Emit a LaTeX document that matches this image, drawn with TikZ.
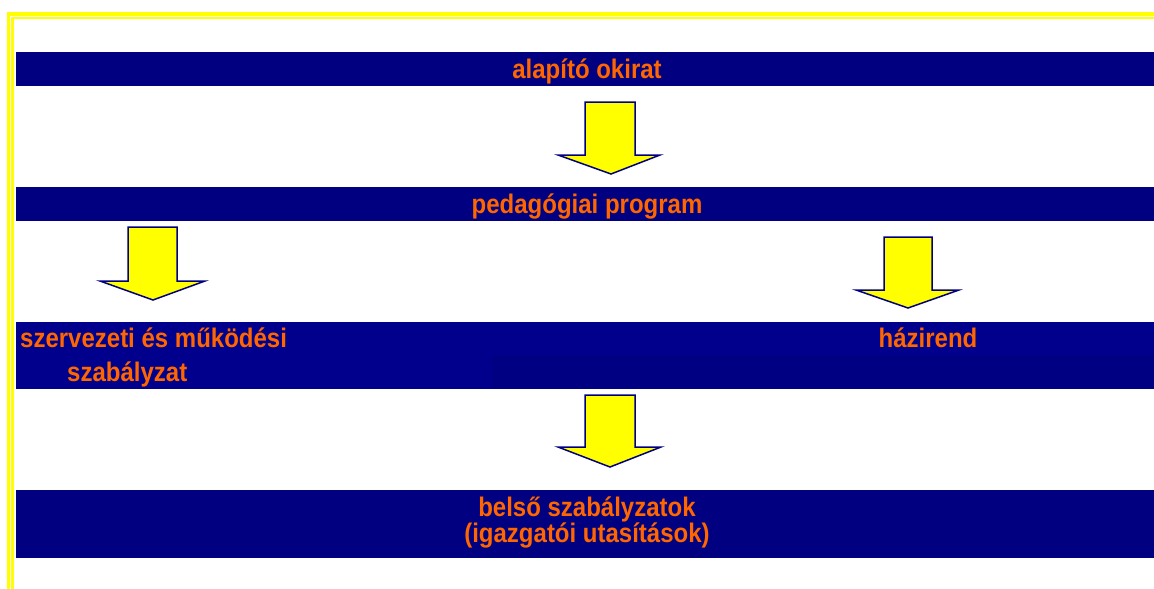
\documentclass[tikz,border=0pt]{standalone}
\usepackage{fontspec}
\usepackage{graphicx}
\setmainfont{Liberation Sans}
\definecolor{bandnavy}{RGB}{0,0,128}
\definecolor{bandnavyb}{RGB}{0,0,140}
\definecolor{bandnavyc}{RGB}{0,0,131}
\definecolor{txtorange}{RGB}{255,102,0}
\definecolor{arrowyellow}{RGB}{255,255,0}
\definecolor{frameyellow}{RGB}{255,255,0}
\newcommand{\tallbold}[1]{\scalebox{1}[1.12]{#1}}
\tikzset{
  band/.style={fill=bandnavy},
  lbl/.style={text=txtorange, font=\fontsize{24}{29}\selectfont\bfseries, inner sep=0pt, anchor=base},
  barrow/.style={fill=arrowyellow, draw=bandnavy, line width=1.5pt, line join=miter},
  frameline/.style={draw=frameyellow}
}
\begin{document}
\begin{tikzpicture}[x=1pt,y=-1pt]
\useasboundingbox (0,0) rectangle (1154,589);
\fill[white] (0,0) rectangle (1154,589);
% yellow frame (double line)
\draw[frameline, line width=3.6pt] (7.3,13.8) -- (1154,13.8);
\draw[frameline, line width=2.4pt] (11.3,17.8) -- (1154,17.8);
\draw[frameline, line width=3pt] (8.8,12) -- (8.8,589);
\draw[frameline, line width=2.7pt] (12.7,16.6) -- (12.7,589);
% bands
\fill[band] (16,52) rectangle (1154,86);
\fill[band] (16,187) rectangle (1154,221);
\fill[fill=bandnavyb] (16,322) rectangle (1154,389);
\fill[fill=bandnavyc] (492,355) rectangle (1154,389);
\fill[band] (16,490) rectangle (1154,558);
% texts
\node[lbl] (alap) at (587,78.5) {\tallbold{alapító okirat}};
\node[lbl] (ped) at (587,213) {\tallbold{pedagógiai program}};
\node[lbl, anchor=base west] (szmsz1) at (20,347.3) {\tallbold{szervezeti és működési}};
\node[lbl, anchor=base west] (szmsz2) at (67,381.7) {\tallbold{szabályzat}};
\node[lbl] (hazi) at (928,347.3) {\tallbold{házirend}};
\node[lbl] (belso1) at (587,516.7) {\tallbold{belső szabályzatok}};
\node[lbl] (belso2) at (587,542.7) {\tallbold{(igazgatói utasítások)}};
% block arrows
\draw[barrow] (585,102) -- (635,102) -- (635,155) -- (660,155) -- (611,174) -- (558,155) -- (585,155) -- cycle;
\draw[barrow] (128,227) -- (177,227) -- (177,281) -- (205,281) -- (153,300) -- (100,281) -- (128,281) -- cycle;
\draw[barrow] (884,237) -- (932,237) -- (932,290) -- (959,290) -- (908,308) -- (856,290) -- (884,290) -- cycle;
\draw[barrow] (585,395) -- (635,395) -- (635,447) -- (661,447) -- (610,467) -- (558,447) -- (585,447) -- cycle;
\end{tikzpicture}
\end{document}
